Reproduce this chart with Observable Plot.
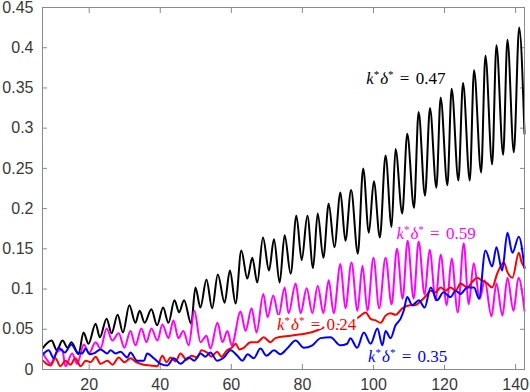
<!DOCTYPE html>
<html>
<head>
<meta charset="utf-8">
<script src="https://cdn.jsdelivr.net/npm/d3@7"></script>
<script src="https://cdn.jsdelivr.net/npm/@observablehq/plot@0.6"></script>
<style>
  html, body { margin: 0; padding: 0; background: #fff; }
  #chart svg { display: block; }
</style>
</head>
<body>
<div id="chart"></div>
<script>
// ---- axes ----
const xDomain = [6.86, 142.5];
const yDomain = [0, 0.45];
const xTicks = [20, 40, 60, 80, 100, 120, 140];
const yTicks = [0, 0.05, 0.1, 0.15, 0.2, 0.25, 0.3, 0.35, 0.4, 0.45];

// ---- series: [x, value] ----
const black047 = [[7.0,.027],[9.4,.036],[10.9,.024],[12.5,.036],[13.9,.027],[15.0,.034],[17.0,.019],[18.4,.046],[19.8,.032],[21.8,.057],[23.0,.040],[24.9,.063],[26.3,.045],[28.0,.068],[29.5,.046],[31.3,.080],[33.0,.058],[34.2,.073],[35.6,.058],[37.5,.075],[39.1,.055],[40.8,.077],[42.3,.058],[44.0,.086],[45.3,.071],[46.7,.086],[48.7,.057],[49.9,.102],[51.3,.077],[53.0,.112],[54.6,.076],[56.2,.118],[58.1,.083],[59.6,.123],[61.2,.082],[62.8,.148],[64.5,.113],[65.9,.139],[67.3,.108],[68.9,.164],[70.6,.123],[72.0,.162],[73.6,.108],[75.0,.167],[76.7,.119],[78.3,.191],[79.8,.136],[81.4,.191],[83.0,.126],[84.3,.194],[85.9,.139],[87.4,.206],[89.0,.152],[90.7,.220],[92.1,.160],[93.7,.223],[95.6,.144],[97.1,.250],[98.7,.170],[100.1,.234],[101.8,.164],[103.4,.266],[105.1,.177],[106.2,.274],[108.1,.194],[109.5,.293],[111.4,.201],[112.7,.320],[114.5,.216],[115.9,.325],[117.7,.226],[118.9,.338],[120.8,.229],[122.0,.349],[123.9,.235],[125.2,.356],[127.1,.235],[128.3,.372],[130.3,.245],[131.5,.390],[133.4,.255],[134.6,.403],[136.5,.267],[137.7,.410],[139.5,.270],[141.0,.425],[142.5,.293]];

const magenta059 = [[7.0,.020],[8.3,.011],[9.1,.007],[10.8,.021],[12.4,.025],[13.3,.004],[15.2,.020],[16.6,.007],[18.5,.031],[19.9,.020],[21.8,.034],[23.2,.026],[24.9,.051],[26.5,.036],[28.3,.045],[29.9,.027],[31.6,.048],[33.0,.030],[34.7,.051],[36.1,.034],[37.5,.051],[39.2,.036],[40.6,.056],[42.3,.039],[43.7,.061],[45.1,.039],[46.5,.048],[48.0,.030],[49.6,.073],[51.3,.034],[53.0,.042],[54.1,.026],[56.1,.058],[57.5,.034],[58.9,.048],[60.1,.030],[62.6,.072],[64.0,.048],[65.7,.076],[67.1,.046],[69.0,.094],[70.2,.065],[71.8,.092],[73.3,.067],[75.0,.102],[76.1,.070],[78.1,.107],[79.5,.070],[81.2,.101],[82.8,.070],[84.3,.104],[85.9,.070],[87.4,.111],[88.8,.070],[90.7,.131],[92.1,.076],[93.8,.133],[95.5,.073],[96.9,.129],[98.3,.073],[100.0,.139],[101.6,.076],[103.4,.139],[105.1,.081],[106.6,.150],[108.2,.088],[109.6,.160],[111.3,.088],[112.7,.159],[114.4,.093],[115.8,.149],[117.5,.086],[118.9,.143],[120.6,.080],[122.0,.138],[123.7,.071],[125.4,.157],[126.8,.081],[128.2,.132],[129.9,.088],[131.3,.111],[133.2,.066],[134.6,.107],[136.3,.067],[137.7,.114],[139.4,.073],[140.8,.114],[142.5,.073]];

const red024 = [[7.0,.011],[8.0,.007],[9.1,.005],[10.5,.014],[11.9,.004],[13.3,.011],[14.7,.006],[16.1,.014],[17.6,.004],[19.0,.011],[20.4,.009],[21.8,.016],[23.2,.007],[25.1,.011],[26.6,.006],[28.3,.015],[29.9,.009],[31.6,.014],[33.3,.009],[35.3,.006],[37.3,.005],[39.1,.004],[40.6,.017],[41.8,.009],[42.9,.015],[44.3,.010],[45.7,.020],[47.4,.012],[48.8,.017],[50.4,.015],[51.6,.024],[53.2,.021],[54.4,.016],[56.0,.022],[57.2,.016],[58.8,.024],[60.1,.027],[61.2,.032],[62.3,.025],[63.5,.027],[65.4,.034],[67.3,.034],[69.1,.040],[71.0,.034],[72.4,.039],[76.7,.042],[82.3,.046],[87.9,.055],[93.5,.058],[96.4,.067],[97.8,.071],[99.2,.063],[100.6,.061],[102.0,.058],[103.4,.067],[104.8,.070],[106.2,.068],[108.1,.076],[110.4,.080],[111.8,.080],[113.3,.085],[114.7,.091],[116.1,.098],[117.5,.096],[118.9,.102],[120.3,.098],[121.7,.102],[123.1,.098],[124.5,.107],[126.4,.102],[127.8,.109],[129.2,.114],[130.4,.111],[132.0,.107],[133.4,.102],[134.8,.119],[136.7,.133],[137.7,.121],[139.1,.114],[140.9,.145],[141.7,.133],[142.5,.127]];

const blue035 = [[7.0,.019],[8.6,.024],[10.0,.014],[11.4,.027],[13.1,.021],[15.0,.031],[16.7,.021],[18.0,.020],[19.0,.026],[20.1,.019],[21.3,.020],[23.2,.025],[25.1,.020],[26.0,.024],[27.4,.020],[28.8,.022],[30.7,.015],[31.6,.021],[33.5,.011],[35.4,.011],[36.3,.020],[38.2,.014],[40.1,.007],[42.0,.005],[43.8,.014],[45.7,.007],[48.0,.015],[49.6,.011],[51.3,.020],[52.7,.016],[54.1,.021],[56.0,.011],[57.9,.015],[59.8,.024],[61.7,.017],[63.1,.011],[64.6,.019],[66.3,.014],[68.2,.026],[69.9,.017],[72.0,.024],[73.8,.019],[75.7,.026],[78.1,.036],[80.4,.027],[82.8,.030],[85.1,.039],[87.9,.040],[90.7,.030],[92.6,.032],[93.5,.039],[95.4,.027],[97.3,.046],[99.2,.032],[101.1,.051],[102.5,.030],[103.4,.048],[104.8,.039],[106.2,.055],[107.6,.063],[108.5,.073],[109.5,.090],[110.9,.080],[112.8,.086],[114.4,.077],[116.1,.102],[117.9,.086],[119.7,.096],[121.7,.090],[123.1,.098],[124.5,.094],[126.4,.102],[128.3,.102],[129.7,.088],[131.5,.148],[133.4,.128],[134.6,.152],[136.2,.123],[137.7,.170],[139.1,.145],[140.9,.165],[142.5,.126]];

// ---- series meta and labels ----
const seriesNames = ["0.47", "0.59", "0.24", "0.35"];
const seriesColors = ["#000000", "#ff00ff", "#ff0000", "#0000ff"];
const seriesData = [black047, magenta059, red024, blue035];
const labelX = [109.1, 117.6, 84.0, 109.6];
const labelY = [0.362, 0.169, 0.056, 0.016];

const rows = seriesData.flatMap((pts, i) => pts.map(([x, y]) => ({x, y, s: seriesNames[i]})));
const labels = seriesNames.map((n, i) => ({text: "k*δ* = " + n, x: labelX[i], y: labelY[i], c: seriesColors[i]}));

const fmt = d => String(+(+d).toFixed(2));
const axisGray = "#8a8a8a";

const chart = Plot.plot({
  width: 530,
  height: 392,
  marginLeft: 42,
  marginRight: 6,
  marginTop: 7,
  marginBottom: 23,
  x: {domain: xDomain},
  y: {domain: yDomain},
  color: {domain: seriesNames, range: seriesColors},
  style: {fontFamily: "'Liberation Sans', Arial, sans-serif", fontSize: "16px", color: "#383838", background: "#fff"},
  marks: [
    Plot.axisY(yTicks, {anchor: "left", tickSize: 0, tickPadding: 9, tickFormat: fmt, label: null, fontSize: 16}),
    Plot.axisY(yTicks, {anchor: "left", tickSize: 5, dx: 5, tickFormat: () => "", label: null, stroke: axisGray}),
    Plot.axisY(yTicks, {anchor: "right", tickSize: 5, dx: -5, tickFormat: () => "", label: null, stroke: axisGray}),
    Plot.axisX(xTicks, {anchor: "bottom", tickSize: 0, tickPadding: 9, label: null, fontSize: 16}),
    Plot.axisX(xTicks, {anchor: "bottom", tickSize: 5, dy: -5, tickFormat: () => "", label: null, stroke: axisGray}),
    Plot.axisX(xTicks, {anchor: "top", tickSize: 5, dy: 5, tickFormat: () => "", label: null, stroke: axisGray}),
    Plot.line(rows, {x: "x", y: "y", z: "s", stroke: "s", strokeWidth: 2, strokeLinejoin: "round", curve: "monotone-x"}),
    Plot.text(labels, {x: "x", y: "y", text: "text", fill: "c", stroke: "#fff", strokeWidth: 6, paintOrder: "stroke",
      fontFamily: "'Liberation Serif', 'Times New Roman', serif", fontSize: 17, textAnchor: "middle"}),
    Plot.frame({stroke: axisGray, strokeWidth: 1})
  ]
});

document.getElementById("chart").appendChild(chart);

// typeset labels: italic k and delta, superscript asterisks
d3.select(chart).selectAll("text").each(function () {
  const t = this.textContent;
  if (!t.startsWith("k*δ*")) return;
  const rest = t.slice(4);
  const node = d3.select(this);
  node.text(null).attr("word-spacing", "2px");
  node.append("tspan").attr("font-style", "italic").text("k");
  node.append("tspan").attr("font-size", "11px").attr("dy", "-6").text("*");
  node.append("tspan").attr("font-style", "italic").attr("dy", "6").attr("dx", "1").text("δ");
  node.append("tspan").attr("font-size", "11px").attr("dy", "-6").text("*");
  node.append("tspan").attr("dy", "6").text(rest);
});
</script>
</body>
</html>
